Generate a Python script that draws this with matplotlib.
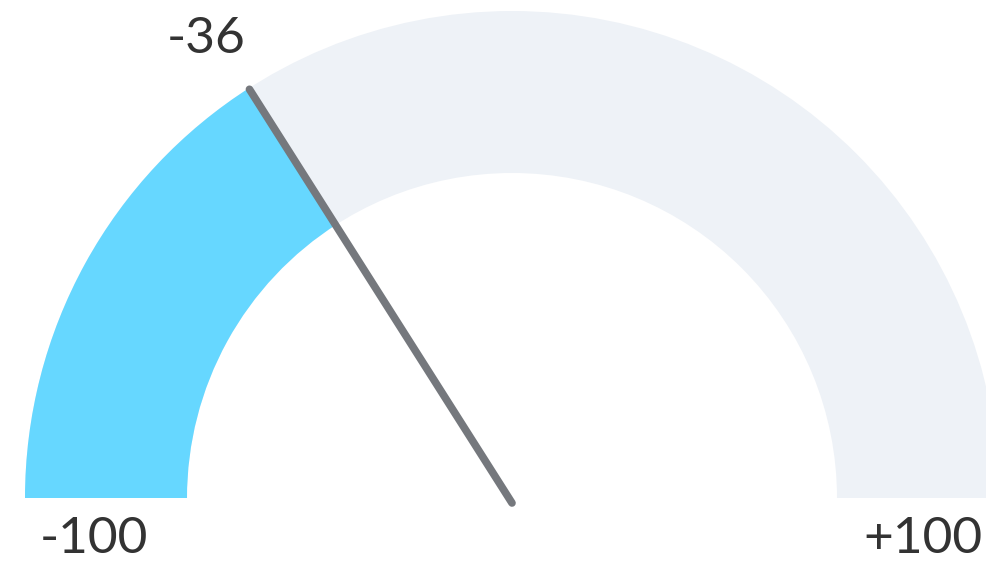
import numpy as np
import matplotlib
matplotlib.use("Agg")
import matplotlib.pyplot as plt
from matplotlib.patches import Wedge

# ---------------------------------------------------------------------
# DATA
# ---------------------------------------------------------------------
GAUGE_MIN = -100
GAUGE_MAX = 100
VALUE = -36
MIN_LABEL = "-100"
MAX_LABEL = "+100"

# ---------------------------------------------------------------------
# STYLE / LAYOUT (pixel units, y pointing up)
# ---------------------------------------------------------------------
W, H = 986, 564
CENTER = (512, 66)
R_OUTER = 487
R_INNER = 325
NEEDLE_PIVOT = (512, 61)
NEEDLE_LEN = 490

FILL_COLOR = "#66D7FF"
TRACK_COLOR = "#EEF2F7"
NEEDLE_COLOR = "#75787D"
TEXT_COLOR = "#333333"

plt.rcParams["font.family"] = ["Lato", "DejaVu Sans"]


def value_to_angle(v):
    """Linear map of the gauge domain onto 180..0 degrees."""
    frac = (v - GAUGE_MIN) / (GAUGE_MAX - GAUGE_MIN)
    return 180.0 - 180.0 * frac


fig = plt.figure(figsize=(W / 100, H / 100), dpi=100)
ax = fig.add_axes([0, 0, 1, 1])
ax.set_xlim(0, W)
ax.set_ylim(0, H)
ax.set_aspect("equal")
ax.axis("off")

ang = value_to_angle(VALUE)

# background track and filled part
ax.add_patch(Wedge(CENTER, R_OUTER, 0, 180, width=R_OUTER - R_INNER,
                   facecolor=TRACK_COLOR, edgecolor="none"))
ax.add_patch(Wedge(CENTER, R_OUTER, ang, 180, width=R_OUTER - R_INNER,
                   facecolor=FILL_COLOR, edgecolor="none"))

# needle
tip_x = NEEDLE_PIVOT[0] + NEEDLE_LEN * np.cos(np.radians(ang))
tip_y = NEEDLE_PIVOT[1] + NEEDLE_LEN * np.sin(np.radians(ang))
ax.plot([NEEDLE_PIVOT[0], tip_x], [NEEDLE_PIVOT[1], tip_y],
        color=NEEDLE_COLOR, linewidth=5.5, solid_capstyle="round")

# labels
ax.text(tip_x - 43, tip_y + 36, f"{VALUE}", ha="center", va="baseline",
        fontsize=37, color=TEXT_COLOR)
ax.text(40, 11, MIN_LABEL, ha="left", va="baseline",
        fontsize=37, color=TEXT_COLOR)
ax.text(983, 11, MAX_LABEL, ha="right", va="baseline",
        fontsize=37, color=TEXT_COLOR)

fig.savefig("out.png", dpi=100)
